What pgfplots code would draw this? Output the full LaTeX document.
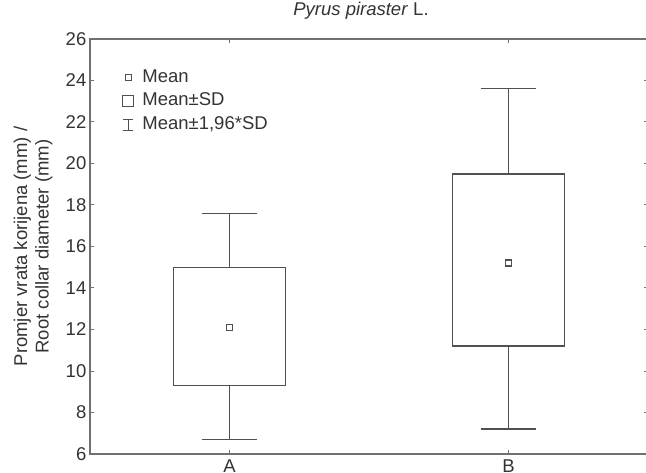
\documentclass[border=0pt]{standalone}
\usepackage{fontspec}
\setmainfont{Liberation Sans}
\usepackage{pgfplots}
\pgfplotsset{compat=1.18}

\definecolor{axgray}{HTML}{707070}
\definecolor{boxgray}{HTML}{505050}
\definecolor{txt}{HTML}{333333}

\begin{document}
\begin{tikzpicture}
\begin{axis}[
  scale only axis,
  width=558pt, height=415pt,
  xmin=0.5, xmax=2.5,
  ymin=6, ymax=26,
  xtick={1,2}, xticklabels={A,B},
  ytick={6,8,...,26},
  tick align=inside,
  major tick length=4pt,
  every tick/.style={axgray, line width=1pt},
  axis line style={axgray, line width=1.5pt},
  font=\fontsize{18.5}{21.5}\selectfont,
  every tick label/.append style={text=txt},
  /pgf/number format/assume math mode=true,
  yticklabel style={inner sep=0pt, xshift=-3.5pt},
  xticklabel style={inner sep=0pt, yshift=-6pt},
  title={\textit{Pyrus piraster} L.},
  title style={at={(axis description cs:0.5,1)}, anchor=base, xshift=-8pt, yshift=17pt, inner sep=0pt, text=txt},
  ylabel={Promjer vrata korijena (mm) /\\Root collar diameter (mm)},
  every axis y label/.style={at={(axis description cs:-0.1022,0.5)}, rotate=90, anchor=center, align=center, text=txt},
  legend style={at={(axis description cs:0.0575,0.928)}, anchor=north west, draw=none, fill=none,
    column sep=8pt, row sep=6.5pt, inner sep=0pt,
    nodes={inner sep=0pt, text height=13pt, text depth=4pt, text=txt}},
  legend cell align=left,
  every axis plot/.append style={boxgray, line width=1.4pt},
]
% whiskers (Mean +- 1.96*SD)
\addplot[forget plot] coordinates {(1,6.7) (1,9.3)};
\addplot[forget plot] coordinates {(1,15.0) (1,17.6)};
\addplot[forget plot] coordinates {(0.9,6.7) (1.1,6.7)};
\addplot[forget plot] coordinates {(0.9,17.6) (1.1,17.6)};
\addplot[forget plot] coordinates {(2,7.2) (2,11.2)};
\addplot[forget plot] coordinates {(2,19.5) (2,23.6)};
\addplot[forget plot] coordinates {(1.9,7.2) (2.1,7.2)};
\addplot[forget plot] coordinates {(1.9,23.6) (2.1,23.6)};
% boxes (Mean +- SD)
\addplot[forget plot] coordinates {(0.8,9.3) (1.2,9.3) (1.2,15.0) (0.8,15.0)} -- cycle;
\addplot[forget plot] coordinates {(1.8,11.2) (2.2,11.2) (2.2,19.5) (1.8,19.5)} -- cycle;
% means
\addplot[forget plot, only marks, mark=square, mark size=3pt, mark options={line width=1.3pt}]
  coordinates {(1,12.1) (2,15.2)};
\addlegendimage{legend image code/.code={
  \path[draw=none, fill=none] (0pt,-6pt) rectangle (12pt,6pt);
  \draw[boxgray, line width=1.1pt] (3pt,-3pt) rectangle (9pt,3pt);}}
\addlegendentry{Mean}
\addlegendimage{legend image code/.code={
  \path[draw=none, fill=none] (0pt,-6pt) rectangle (12pt,6pt);
  \draw[boxgray, line width=1.1pt] (0.5pt,-5.5pt) rectangle (11.5pt,5.5pt);}}
\addlegendentry{Mean±SD}
\addlegendimage{legend image code/.code={
  \path[draw=none, fill=none] (0pt,-6pt) rectangle (12pt,6pt);
  \draw[boxgray, line width=1.1pt] (1pt,-5.5pt) -- (11pt,-5.5pt) (6pt,-5.5pt) -- (6pt,5.5pt) (1pt,5.5pt) -- (11pt,5.5pt);}}
\addlegendentry{Mean±1,96*SD}
\end{axis}
\pgfresetboundingbox
\path[use as bounding box] ([xshift=-90pt,yshift=-18pt]current axis.south west)
  rectangle ([xshift=-2pt,yshift=39pt]current axis.north east);
\end{tikzpicture}
\end{document}
